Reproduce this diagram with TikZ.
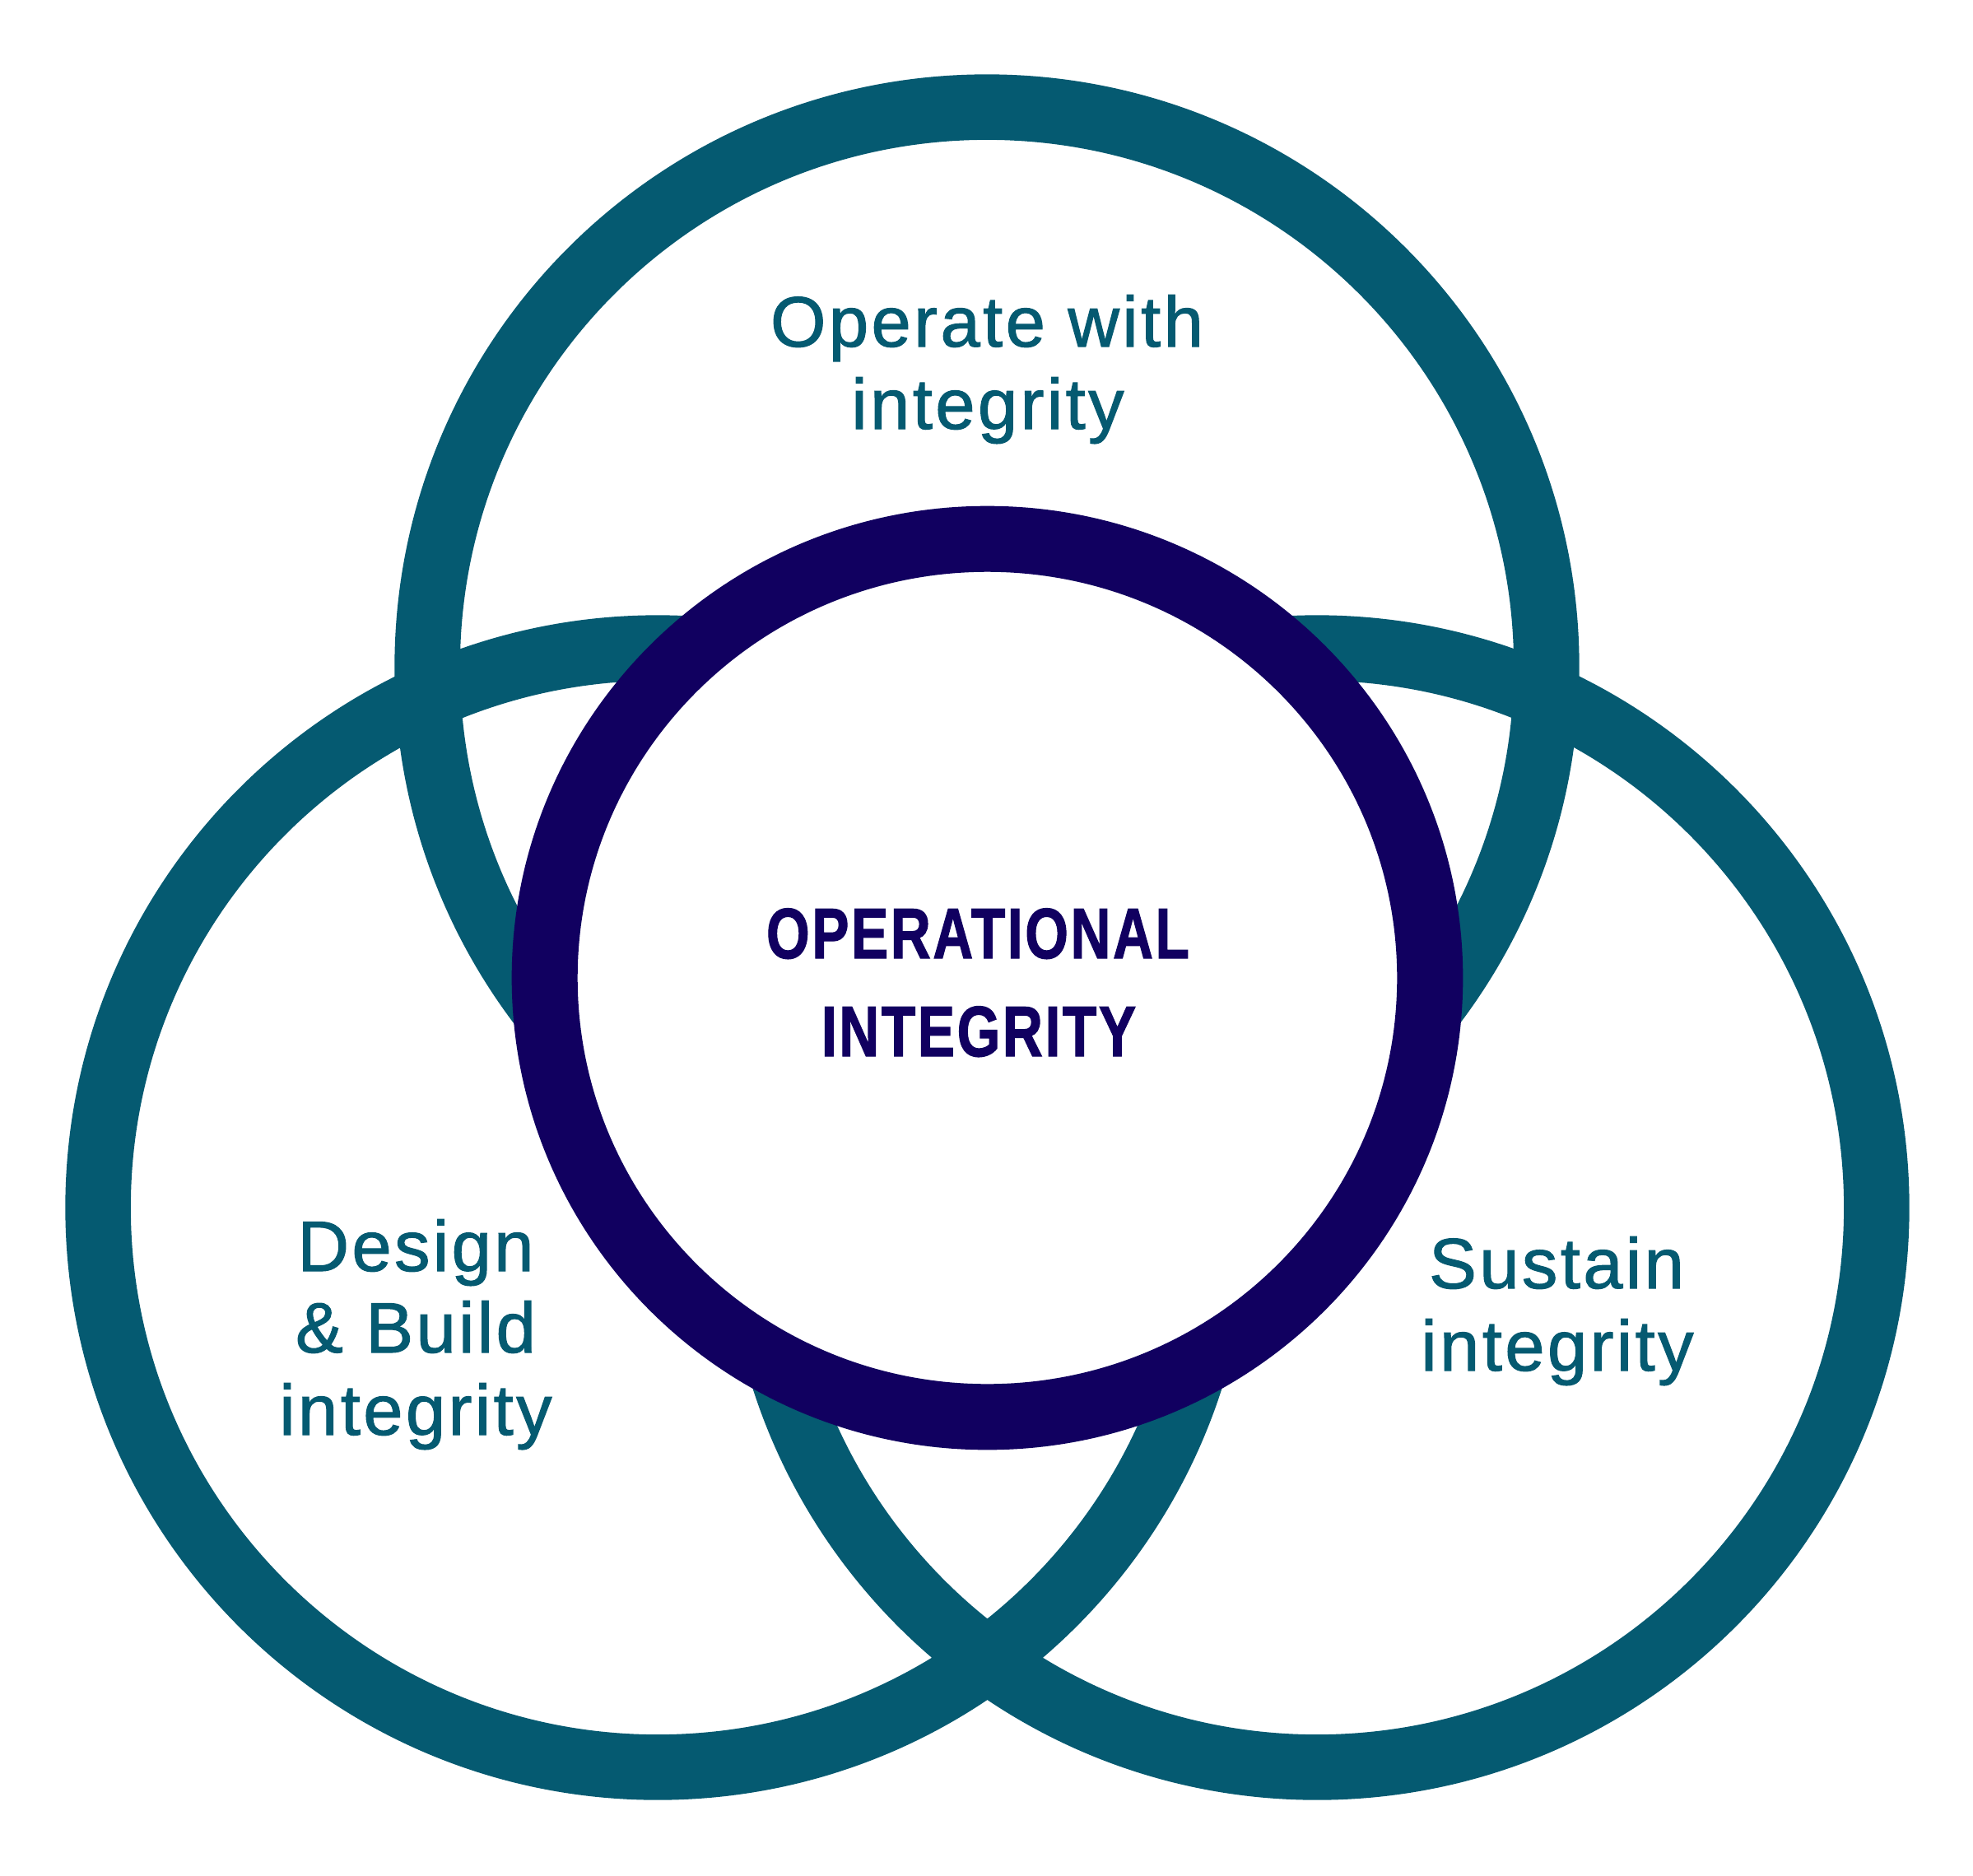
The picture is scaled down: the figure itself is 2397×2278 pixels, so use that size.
\documentclass[tikz,border=0pt]{standalone}
\usepackage{fontspec}
\setmainfont{Liberation Sans}
\usepackage{graphicx}
\definecolor{tealring}{RGB}{5,90,113}
\definecolor{navyring}{RGB}{17,0,96}
\begin{document}
\begin{tikzpicture}[x=0.01cm,y=-0.01cm,
  ring/.style={draw=tealring,line width=0.795cm},
  core/.style={draw=navyring,fill=white,line width=0.80cm},
  lbl/.style={text=tealring,font=\fontsize{24.64}{28.45}\selectfont\addfontfeature{LetterSpace=4,FakeBold=1.3},anchor=base,inner sep=0pt},
  ttl/.style={text=navyring,font=\fontsize{24.64}{34}\selectfont\bfseries\addfontfeature{LetterSpace=4,FakeBold=1.6},anchor=base,inner sep=0pt}
]
\useasboundingbox (0,0) rectangle (2397,2278);
% three teal rings
\draw[ring] (1199,810) circle[radius=6.795cm];
\draw[ring] (799,1467) circle[radius=6.795cm];
\draw[ring] (1600,1467) circle[radius=6.795cm];
% central ring
\draw[core] (1199.5,1188) ellipse[x radius=5.375cm, y radius=5.33cm];
% title
\node[ttl] (t1) at (1188,1164) {\scalebox{0.78}[1]{OPERATIONAL}};
\node[ttl] (t2) at (1189,1283) {\scalebox{0.78}[1]{INTEGRITY}};
% labels
\node[lbl] (o1) at (1199,421) {Operate with};
\node[lbl] (o2) at (1200,521) {integrity};
\node[lbl] (d1) at (505,1544) {Design};
\node[lbl] (d2) at (505,1643) {\& Build};
\node[lbl] (d3) at (505,1743) {integrity};
\node[lbl] (s1) at (1891,1565) {Sustain};
\node[lbl] (s2) at (1892,1665) {integrity};
\end{tikzpicture}
\end{document}
